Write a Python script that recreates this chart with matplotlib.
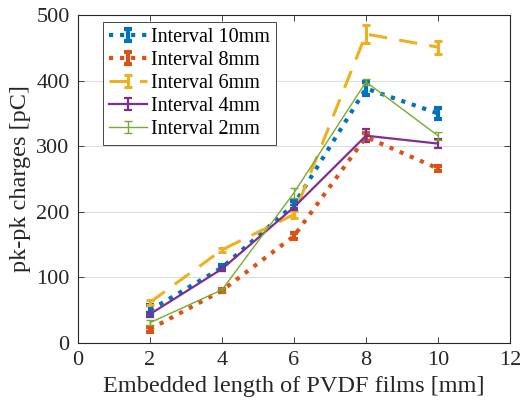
import matplotlib.pyplot as plt
import numpy as np
from matplotlib.legend_handler import HandlerErrorbar
from matplotlib.container import ErrorbarContainer

plt.rcParams["font.family"] = ["Liberation Serif", "DejaVu Serif"]

# --- Data ---
length_mm = [2, 4, 6, 8, 10]

labels = ["Interval 10mm", "Interval 8mm", "Interval 6mm", "Interval 4mm", "Interval 2mm"]

charge_10mm = [50, 115, 211, 388, 350]
err_10mm = [8, 4, 6, 10, 8]
charge_8mm = [21, 80, 163, 314, 266]
err_8mm = [4, 3, 4, 6, 4]
charge_6mm = [62, 142, 196, 471, 451]
err_6mm = [4, 3, 5, 13, 10]
charge_4mm = [44, 113, 207, 316, 304]
err_4mm = [4, 3, 4, 10, 7]
charge_2mm = [31, 81, 229, 398, 316]
err_2mm = [4, 3, 8, 5, 6]

series = [
    (charge_10mm, err_10mm, "#0072BD", ":", 3.0),
    (charge_8mm, err_8mm, "#D95319", ":", 3.0),
    (charge_6mm, err_6mm, "#EDB120", (0, (6, 4)), 2.2),
    (charge_4mm, err_4mm, "#7E2F8E", "-", 1.6),
    (charge_2mm, err_2mm, "#77AC30", "-", 1.0),
]

# --- Plot ---
fig = plt.figure(figsize=(5.26, 4.09), dpi=100)
ax = fig.add_axes([78 / 526, 1 - 343 / 409, (510 - 78) / 526, (343 - 15) / 409])

for (y, e, color, ls, lw), label in zip(series, labels):
    eb = ax.errorbar(
        length_mm, y, yerr=e, color=color, linestyle=ls, linewidth=lw,
        elinewidth=lw, capsize=3, capthick=lw, label=label,
    )
    eb[-1][0].set_linestyle("-")

ax.set_xlim(0, 12)
ax.set_ylim(0, 500)
ax.set_xticks(np.arange(0, 13, 2))
ax.set_yticks(np.arange(0, 501, 100))
ax.set_xlabel("Embedded length of PVDF films [mm]", fontsize=17.5, color="#262626", labelpad=4)
ax.set_ylabel("pk-pk charges [pC]", fontsize=17.5, color="#262626", labelpad=4)

ax.grid(True, axis="y", color="#dddddd", linewidth=0.8)
ax.set_axisbelow(True)
ax.tick_params(which="both", direction="in", top=True, right=True,
               labelsize=16, length=4, width=0.6, colors="#262626", pad=6)
for spine in ax.spines.values():
    spine.set_linewidth(0.8)
    spine.set_color("#262626")

leg = ax.legend(loc="upper left", bbox_to_anchor=(0.058, 0.98), fontsize=14.5,
                handlelength=1.9, handletextpad=0.2, borderpad=0.3,
                labelspacing=0.2, fancybox=False, framealpha=1,
                edgecolor="#262626", borderaxespad=0,
                handler_map={ErrorbarContainer: HandlerErrorbar(xerr_size=0.3, yerr_size=0.3)})
leg.get_frame().set_linewidth(0.6)

fig.savefig("out.png", dpi=100)
